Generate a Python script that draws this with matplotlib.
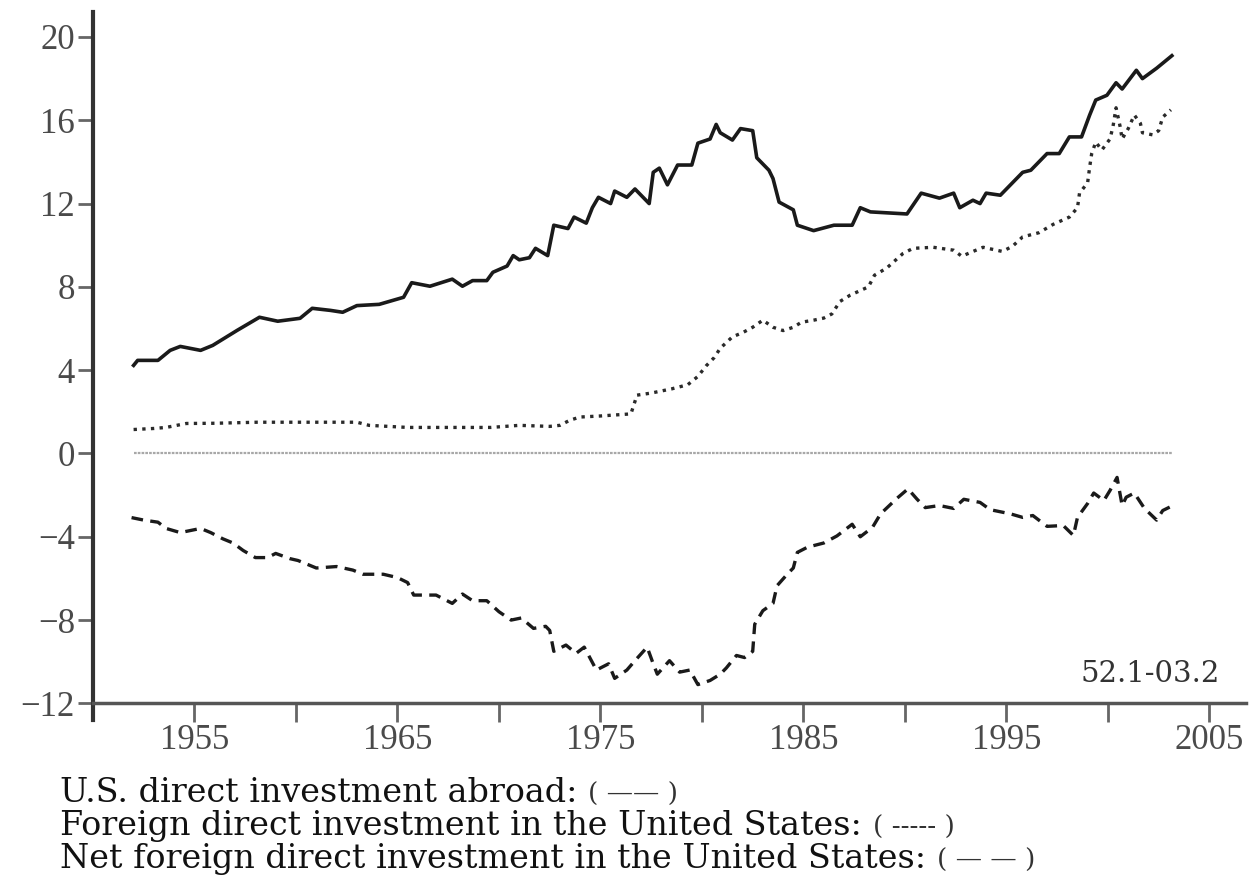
import matplotlib

matplotlib.use("Agg")
import matplotlib.pyplot as plt  # noqa: E402
from matplotlib.ticker import FixedLocator  # noqa: E402

# U.S. direct investment abroad (solid)
us_abroad_years = [
    1952.0, 1952.2, 1953.2, 1953.8, 1954.3, 1955.3, 1955.9, 1957.1, 1958.2, 1959.1,
    1960.2, 1960.8, 1961.7, 1962.3, 1963.0, 1964.1, 1965.3, 1965.7, 1966.6, 1967.7,
    1968.2, 1968.7, 1969.4, 1969.7, 1970.4, 1970.7, 1971.0, 1971.5, 1971.8, 1972.4,
    1972.7, 1973.4, 1973.7, 1974.3, 1974.6, 1974.9, 1975.5, 1975.7, 1976.3, 1976.7,
    1977.4, 1977.6, 1977.9, 1978.3, 1978.8, 1979.5, 1979.8, 1980.4, 1980.7, 1980.9,
    1981.5, 1981.9, 1982.5, 1982.7, 1983.3, 1983.5, 1983.8, 1984.5, 1984.7, 1985.5,
    1986.5, 1987.4, 1987.8, 1988.3, 1990.1, 1990.8, 1991.7, 1992.4, 1992.7, 1993.35,
    1993.7, 1994.0, 1994.7, 1995.3, 1995.8, 1996.2, 1997.0, 1997.6, 1998.1, 1998.7,
    1999.1, 1999.4, 1999.95, 2000.4, 2000.7, 2001.4, 2001.7, 2002.4, 2003.15,
]
us_abroad = [
    4.23, 4.47, 4.47, 4.95, 5.14, 4.95, 5.19, 5.91, 6.54, 6.35,
    6.49, 6.97, 6.87, 6.78, 7.1, 7.16, 7.5, 8.2, 8.03, 8.37,
    8.03, 8.3, 8.3, 8.7, 9.0, 9.5, 9.3, 9.4, 9.85, 9.5,
    10.96, 10.8, 11.35, 11.06, 11.8, 12.3, 12.0, 12.6, 12.3, 12.7,
    12.0, 13.5, 13.7, 12.9, 13.85, 13.85, 14.9, 15.1, 15.8, 15.4,
    15.05, 15.6, 15.5, 14.2, 13.6, 13.2, 12.07, 11.7, 10.96, 10.7,
    10.96, 10.96, 11.8, 11.6, 11.5, 12.5, 12.26, 12.5, 11.8, 12.16,
    12.0, 12.5, 12.4, 13.0, 13.5, 13.6, 14.4, 14.4, 15.2, 15.2,
    16.25, 16.97, 17.2, 17.8, 17.5, 18.4, 18.0, 18.5, 19.1,
]

# Foreign direct investment in the United States (dotted)
foreign_us_years = [
    1952.0, 1953.0, 1953.6, 1954.6, 1956.0, 1958.1, 1961.0, 1963.0, 1963.6, 1965.5,
    1968.0, 1969.6, 1971.0, 1972.5, 1973.0, 1973.5, 1974.0, 1975.0, 1976.5, 1976.8,
    1977.5, 1978.5, 1979.3, 1979.8, 1980.2, 1980.6, 1980.9, 1981.5, 1982.0, 1982.5,
    1983.0, 1983.5, 1984.0, 1984.5, 1984.9, 1985.5, 1986.0, 1986.4, 1986.8, 1987.3,
    1988.2, 1988.5, 1989.1, 1989.9, 1990.4, 1991.4, 1992.4, 1992.8, 1993.35, 1993.85,
    1994.8, 1995.3, 1995.8, 1996.6, 1997.3, 1998.1, 1998.5, 1998.6, 1999.0, 1999.1,
    1999.2, 1999.4, 1999.7, 2000.1, 2000.25, 2000.4, 2000.6, 2000.7, 2001.0, 2001.3,
    2001.6, 2001.7, 2002.2, 2002.5, 2002.7, 2003.1,
]
foreign_us = [
    1.15, 1.2, 1.25, 1.44, 1.45, 1.5, 1.5, 1.5, 1.35, 1.25,
    1.25, 1.25, 1.35, 1.3, 1.35, 1.6, 1.75, 1.8, 1.9, 2.8,
    2.9, 3.1, 3.3, 3.7, 4.2, 4.6, 5.05, 5.6, 5.8, 6.06,
    6.4, 6.06, 5.9, 6.06, 6.3, 6.4, 6.5, 6.7, 7.3, 7.6,
    8.0, 8.56, 8.9, 9.6, 9.85, 9.9, 9.76, 9.47, 9.7, 9.9,
    9.7, 9.95, 10.4, 10.6, 11.0, 11.35, 11.8, 12.5, 13.0, 13.75,
    14.4, 14.95, 14.57, 15.1, 15.7, 16.6, 15.7, 15.1, 15.6, 16.25,
    15.85, 15.4, 15.3, 15.5, 16.15, 16.5,
]

# Net foreign direct investment in the United States (dashed)
net_years = [
    1951.9, 1952.5, 1953.2, 1953.6, 1954.3, 1955.3, 1955.8, 1956.4, 1956.9, 1957.4,
    1958.0, 1958.6, 1959.0, 1959.7, 1960.1, 1961.0, 1962.0, 1962.8, 1963.3, 1964.3,
    1965.0, 1965.5, 1965.8, 1966.9, 1967.7, 1968.2, 1968.7, 1969.4, 1970.0, 1970.6,
    1971.1, 1971.7, 1972.3, 1972.5, 1972.7, 1973.3, 1973.8, 1974.2, 1974.8, 1975.4,
    1975.7, 1976.3, 1976.7, 1977.3, 1977.6, 1977.8, 1978.4, 1978.9, 1979.4, 1979.8,
    1980.4, 1980.9, 1981.2, 1981.7, 1982.1, 1982.5, 1982.6, 1983.0, 1983.5, 1983.7,
    1984.2, 1984.5, 1984.7, 1985.2, 1986.0, 1986.65, 1987.4, 1987.8, 1988.4, 1988.8,
    1989.6, 1990.15, 1990.6, 1991.0, 1991.7, 1992.4, 1992.9, 1993.7, 1994.2, 1995.2,
    1995.8, 1996.3, 1997.0, 1997.8, 1998.3, 1998.5, 1999.0, 1999.3, 1999.8, 2000.1,
    2000.45, 2000.7, 2000.9, 2001.3, 2001.8, 2002.4, 2002.7, 2003.2,
]
net_fdi = [
    -3.08, -3.2, -3.3, -3.6, -3.8, -3.6, -3.8, -4.1, -4.3, -4.66,
    -5.0, -5.0, -4.8, -5.05, -5.14, -5.5, -5.43, -5.6, -5.8, -5.8,
    -5.96, -6.2, -6.8, -6.8, -7.2, -6.75, -7.07, -7.07, -7.6, -8.0,
    -7.9, -8.4, -8.3, -8.5, -9.5, -9.2, -9.6, -9.3, -10.4, -10.1,
    -10.8, -10.4, -9.95, -9.3, -10.1, -10.6, -9.95, -10.5, -10.4, -11.1,
    -10.9, -10.6, -10.3, -9.7, -9.8, -9.5, -8.2, -7.55, -7.2, -6.35,
    -5.8, -5.5, -4.75, -4.5, -4.3, -3.96, -3.4, -4.0, -3.55, -2.9,
    -2.16, -1.7, -2.2, -2.6, -2.5, -2.64, -2.2, -2.35, -2.7, -2.9,
    -3.07, -2.98, -3.5, -3.46, -3.94, -3.07, -2.4, -1.9, -2.26, -1.78,
    -1.15, -2.5, -2.1, -1.9, -2.64, -3.2, -2.74, -2.5,
]

y_ticks = [20, 16, 12, 8, 4, 0, -4, -8, -12]
y_tick_labels = ["20", "16", "12", "8", "4", "0", "\u22124", "\u22128", "\u221212"]
x_major = [1955, 1965, 1975, 1985, 1995, 2005]
x_minor = [1960, 1970, 1980, 1990, 2000]
sample_label = "52.1-03.2"
legend_lines = [
    ("U.S. direct investment abroad: ", "( \u2014\u2014 )"),
    ("Foreign direct investment in the United States: ", "( ----- )"),
    ("Net foreign direct investment in the United States: ", "( \u2014 \u2014 )"),
]

plt.rcParams["font.family"] = ["Liberation Serif", "DejaVu Serif"]

fig = plt.figure(figsize=(12.55, 8.93), dpi=100)
ax = fig.add_axes([0.0741, 0.1937, 0.9187, 0.7929])

ax.hlines(0, us_abroad_years[0], us_abroad_years[-1], colors="#a8a8a8",
          linewidth=1.6, linestyles=(0, (1.2, 0.5)))
ax.plot(us_abroad_years, us_abroad, color="#1a1a1a", linewidth=2.6)
ax.plot(foreign_us_years, foreign_us, color="#2a2a2a", linewidth=2.4,
        linestyle=(0, (1.0, 1.6)))
ax.plot(net_years, net_fdi, color="#1a1a1a", linewidth=2.4,
        linestyle=(0, (3.5, 2.2)))

ax.set_xlim(1950, 2006.8)
ax.set_ylim(-12.8, 21.2)

for side in ("top", "right"):
    ax.spines[side].set_visible(False)
ax.spines["bottom"].set_position(("data", -12))
ax.spines["left"].set_linewidth(3)
ax.spines["left"].set_color("#333333")
ax.spines["bottom"].set_linewidth(2.5)
ax.spines["bottom"].set_color("#555555")

ax.set_yticks(y_ticks)
ax.set_yticklabels(y_tick_labels)
ax.xaxis.set_major_locator(FixedLocator(x_major))
ax.xaxis.set_minor_locator(FixedLocator(x_minor))
ax.set_xticklabels([str(v) for v in x_major])

ax.tick_params(axis="y", direction="out", length=11, width=2, color="#666666",
               labelsize=25, labelcolor="#4a4a4a", pad=2)
ax.tick_params(axis="x", which="both", direction="out", length=14, width=2,
               color="#666666", labelsize=25, labelcolor="#4a4a4a", pad=1)

ax.text(2005.5, -10.6, sample_label, ha="right", va="center", fontsize=21,
        color="#333333", family="DejaVu Serif")

for i, (main, sample) in enumerate(legend_lines):
    t = fig.text(0.048, 0.112 - i * 0.037, main, ha="left", va="center",
                 fontsize=24, color="#111111", family="DejaVu Serif")
    ax.annotate(sample, xy=(1, 0.45), xycoords=t, ha="left", va="center",
                fontsize=19, color="#333333", family="DejaVu Serif")

fig.savefig("out.png", dpi=100)
